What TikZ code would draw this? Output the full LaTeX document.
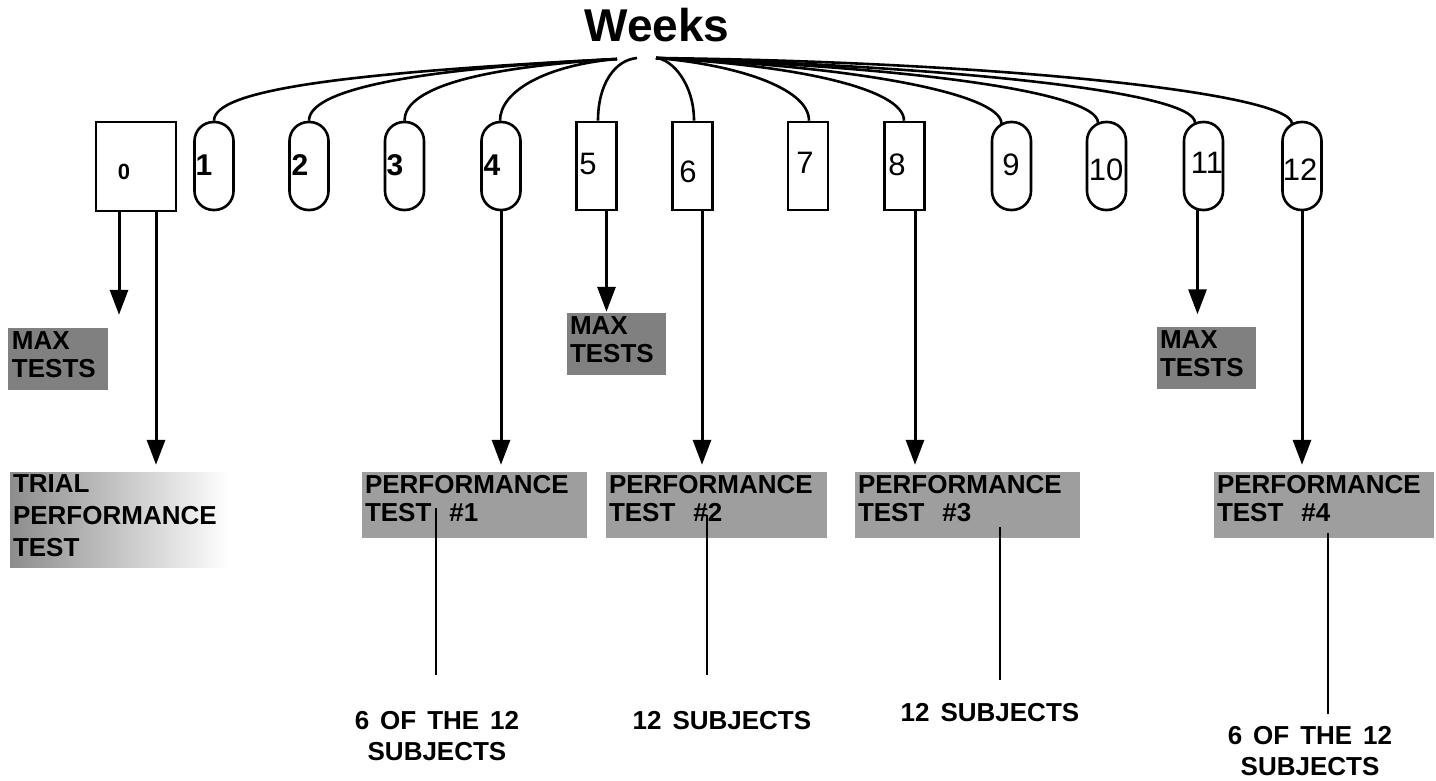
\documentclass[tikz,border=0pt]{standalone}
\usepackage{fontspec}
\setmainfont{Liberation Sans}
\usetikzlibrary{arrows.meta}
\newcommand\wsp{\hspace{0.42em}}
\begin{document}
\begin{tikzpicture}[x=1pt,y=-1pt,
  box/.style={draw, line width=2.6pt, minimum width=40pt, minimum height=88pt, inner sep=0pt},
  caps/.style={box, minimum width=39pt, rounded corners=19pt},
  dig/.style={inner sep=0pt, font=\fontsize{31}{31}\selectfont},
  digb/.style={inner sep=0pt, font=\bfseries\fontsize{30}{30}\selectfont},
  fan/.style={line width=2.6pt},
  arr/.style={line width=3pt, -{Triangle[width=18pt,length=25pt]}},
  stem/.style={line width=2.2pt},
  maxbox/.style={fill=black!50, minimum width=99pt, minimum height=62pt, inner sep=0pt},
  perf/.style={fill=black!38, minimum height=66pt, inner sep=0pt},
  boxtxt/.style={inner sep=0pt, anchor=north west, align=left, font=\bfseries\fontsize{26}{28}\selectfont},
  note/.style={inner sep=0pt, anchor=north, align=center, font=\bfseries\fontsize{26}{31}\selectfont},
]
\useasboundingbox (0,0) rectangle (1436,780);

% title
\node[inner sep=0pt, anchor=north, font=\bfseries\fontsize{46}{46}\selectfont] (title) at (657,8) {Weeks};
\coordinate (hubL) at (617,59);
\coordinate (hub5) at (637,58);
\coordinate (hubR) at (656,58);

% week boxes
\node[box, minimum width=80pt, minimum height=89pt] (w0) at (136,166.5) {};
\node[caps] (w1) at (214,166) {};
\node[caps] (w2) at (309,166) {};
\node[caps] (w3) at (404.5,166) {};
\node[caps] (w4) at (501,166) {};
\node[box] (w5) at (596.5,166) {};
\node[box] (w6) at (692.5,166) {};
\node[box] (w7) at (808,166) {};
\node[box] (w8) at (904.5,166) {};
\node[caps] (w9) at (1011.5,166) {};
\node[caps] (w10) at (1106.5,166) {};
\node[caps] (w11) at (1203.5,166) {};
\node[caps] (w12) at (1302,166) {};

% week labels
\node[digb, font=\bfseries\fontsize{22}{22}\selectfont] (l0) at (124,172) {0};
\node[digb] (l1) at (204,165) {1};
\node[digb] (l2) at (300,165) {2};
\node[digb] (l3) at (395,165) {3};
\node[digb] (l4) at (492,165) {4};
\node[dig] (l5) at (588,164) {5};
\node[dig] (l6) at (688,172) {6};
\node[dig] (l7) at (805,163) {7};
\node[dig] (l8) at (897,165) {8};
\node[dig] (l9) at (1011,165) {9};
\node[dig] (l10) at (1106,170) {10};
\node[dig] (l11) at (1207,163) {11};
\node[dig] (l12) at (1300,170) {12};

% fan curves
\draw[fan] (w1.north) .. controls +(0,-30) and +(-280,14) .. (hubL);
\draw[fan] (w2.north) .. controls +(0,-30) and +(-210,10) .. (hubL);
\draw[fan] (w3.north) .. controls +(0,-30) and +(-150,9) .. (hubL);
\draw[fan] ([xshift=-1pt]w4.north) .. controls +(0,-30) and +(-70,6) .. (hubL);
\draw[fan] ([xshift=1.5pt]w5.north) .. controls +(0,-37) and +(-22,2) .. (hub5);
\draw[fan] ([xshift=1.5pt]w6.north) .. controls +(0,-37) and +(16,1) .. (hubR);
\draw[fan] ([xshift=1pt]w7.north) .. controls +(0,-34) and +(75,6) .. (hubR);
\draw[fan] ([xshift=-0.5pt]w8.north) .. controls +(0,-32) and +(140,7) .. (hubR);
\draw[fan] ([xshift=-10pt,yshift=-3pt]w9.north) .. controls +(0,-30) and +(200,8) .. (hubR);
\draw[fan] ([xshift=-8.5pt,yshift=-2pt]w10.north) .. controls +(0,-30) and +(260,9) .. (hubR);
\draw[fan] ([xshift=-8.5pt,yshift=-2pt]w11.north) .. controls +(0,-30) and +(310,9) .. (hubR);
\draw[fan] ([xshift=-10pt,yshift=-3pt]w12.north) .. controls +(0,-30) and +(350,4) .. (hubR);

% result boxes
\node[maxbox, minimum width=100pt] (max1) at (58,359) {};
\node[maxbox] (max2) at (616.5,344) {};
\node[maxbox] (max3) at (1206.5,357.5) {};
\node[inner sep=0pt, minimum width=220pt, minimum height=95pt, left color=black!45, right color=white] (trial) at (120,519.5) {};
\node[perf, minimum width=225pt] (pt1) at (474.5,505) {};
\node[perf, minimum width=221pt] (pt2) at (716.5,505) {};
\node[perf, minimum width=225pt] (pt3) at (967.5,505) {};
\node[perf, minimum width=220pt] (pt4) at (1324,505) {};

\node[boxtxt] (max1t) at ([xshift=4pt,yshift=-4pt]max1.north west) {MAX\\TESTS};
\node[boxtxt] (max2t) at ([xshift=3pt,yshift=-4pt]max2.north west) {MAX\\TESTS};
\node[boxtxt] (max3t) at ([xshift=3pt,yshift=-4pt]max3.north west) {MAX\\TESTS};
\node[boxtxt, font=\bfseries\fontsize{26}{32}\selectfont] (trialt) at ([xshift=3pt,yshift=-3pt]trial.north west) {TRIAL\\PERFORMANCE\\TEST};
\node[boxtxt] (pt1t) at ([xshift=3pt,yshift=-3pt]pt1.north west) {PERFORMANCE\\TEST\hspace{18pt}\#1};
\node[boxtxt] (pt2t) at ([xshift=3pt,yshift=-3pt]pt2.north west) {PERFORMANCE\\TEST\hspace{18pt}\#2};
\node[boxtxt] (pt3t) at ([xshift=3pt,yshift=-3pt]pt3.north west) {PERFORMANCE\\TEST\hspace{18pt}\#3};
\node[boxtxt] (pt4t) at ([xshift=3pt,yshift=-3pt]pt4.north west) {PERFORMANCE\\TEST\hspace{18pt}\#4};

% arrows from weeks
\draw[arr, shorten >=13pt] ([xshift=-17pt]w0.south) coordinate (a0) -- (a0 |- max1.north);
\draw[arr, shorten >=7pt] ([xshift=20pt]w0.south) coordinate (b0) -- (b0 |- trial.north);
\draw[arr, shorten >=7pt] (w4.south) coordinate (a4) -- (a4 |- pt1.north);
\draw[arr, shorten >=1pt] ([xshift=10pt]w5.south) coordinate (a5) -- (a5 |- max2.north);
\draw[arr, shorten >=7pt] ([xshift=9.5pt]w6.south) coordinate (a6) -- (a6 |- pt2.north);
\draw[arr, shorten >=7pt] ([xshift=10.5pt]w8.south) coordinate (a8) -- (a8 |- pt3.north);
\draw[arr, shorten >=12pt] ([xshift=-6pt,yshift=1pt]w11.south) coordinate (a11) -- (a11 |- max3.north);
\draw[arr, shorten >=7pt] (w12.south) coordinate (a12) -- (a12 |- pt4.north);

% subject notes
\node[note] (t1) at (437,711) {6\wsp OF\wsp THE\wsp 12\\SUBJECTS};
\node[note] (t2) at (722,711) {12\wsp SUBJECTS};
\node[note] (t3) at (990,703) {12\wsp SUBJECTS};
\node[note] (t4) at (1310,726) {6\wsp OF\wsp THE\wsp 12\\SUBJECTS};

\draw[stem, shorten >=36pt] ([xshift=-38.5pt,yshift=-3pt]pt1.center) coordinate (s1) -- (s1 |- t1.north);
\draw[stem, shorten >=36pt] ([xshift=-9.5pt,yshift=-10pt]pt2.center) coordinate (s2) -- (s2 |- t2.north);
\draw[stem, shorten >=23pt] ([xshift=32.5pt,yshift=-22pt]pt3.center) coordinate (s3) -- (s3 |- t3.north);
\draw[stem, shorten >=12pt] ([xshift=4pt,yshift=-28pt]pt4.center) coordinate (s4) -- (s4 |- t4.north);
\end{tikzpicture}
\end{document}
